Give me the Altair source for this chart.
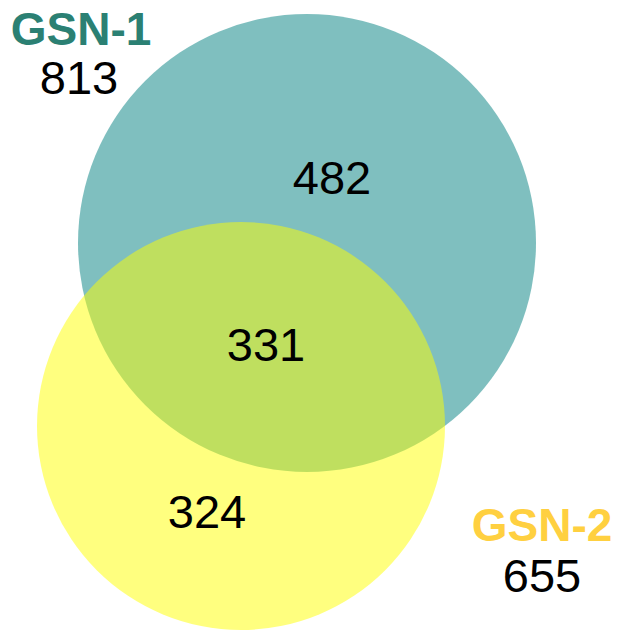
import altair as alt
import pandas as pd

# Venn sets
set_names = ["GSN-1", "GSN-2"]
set_totals = [813, 655]
set_colors = ["#008080", "#FFFF00"]
label_colors = ["#2B8073", "#FFD040"]
# circle centres (chart units) and radii
circle_x = [299, 233]
circle_y = [235, 418]
circle_r = [229, 204]

# region counts: only GSN-1, both, only GSN-2
region_counts = [482, 331, 324]
region_x = [324, 258, 199]
region_y = [172, 339, 506]

# set label positions
name_x = [73, 534]
name_y = [23, 519]
total_x = [71, 534]
total_y = [72, 570]

W, H = 610, 624

circles = pd.DataFrame({
    "name": set_names,
    "x": circle_x,
    "y": circle_y,
    # Vega circle symbol: radius = sqrt(size) / 2
    "size": [(2 * r) ** 2 for r in circle_r],
    "color": set_colors,
})
regions = pd.DataFrame({"label": [str(v) for v in region_counts], "x": region_x, "y": region_y})
names = pd.DataFrame({"label": set_names, "x": name_x, "y": name_y, "color": label_colors})
totals = pd.DataFrame({"label": [str(v) for v in set_totals], "x": total_x, "y": total_y})

xs = alt.Scale(domain=[0, W], range=[0, W], nice=False, zero=False)
ys = alt.Scale(domain=[0, H], range=[0, H], nice=False, zero=False)
X = lambda: alt.X("x:Q", scale=xs, axis=None)
Y = lambda: alt.Y("y:Q", scale=ys, axis=None)

circle_layer = alt.Chart(circles).mark_circle(opacity=0.5, strokeWidth=0).encode(
    x=X(), y=Y(),
    size=alt.Size("size:Q", scale=None, legend=None),
    color=alt.Color("color:N", scale=None, legend=None),
    order=alt.Order("name:N"),
)

font = "Liberation Sans"
region_layer = alt.Chart(regions).mark_text(font=font, fontSize=47, color="black", baseline="middle", align="center").encode(
    x=X(), y=Y(), text="label:N")
name_layer = alt.Chart(names).mark_text(font=font, fontSize=46, fontWeight="bold", baseline="middle", align="center").encode(
    x=X(), y=Y(), text="label:N", color=alt.Color("color:N", scale=None, legend=None))
total_layer = alt.Chart(totals).mark_text(font=font, fontSize=47, color="black", baseline="middle", align="center").encode(
    x=X(), y=Y(), text="label:N")

chart = alt.layer(circle_layer, region_layer, name_layer, total_layer).properties(
    width=W, height=H, padding=0, autosize=alt.AutoSizeParams(type="none"), background="white"
).configure_view(stroke=None)

chart.save("out.html", embed_options={"renderer": "svg", "actions": False})
